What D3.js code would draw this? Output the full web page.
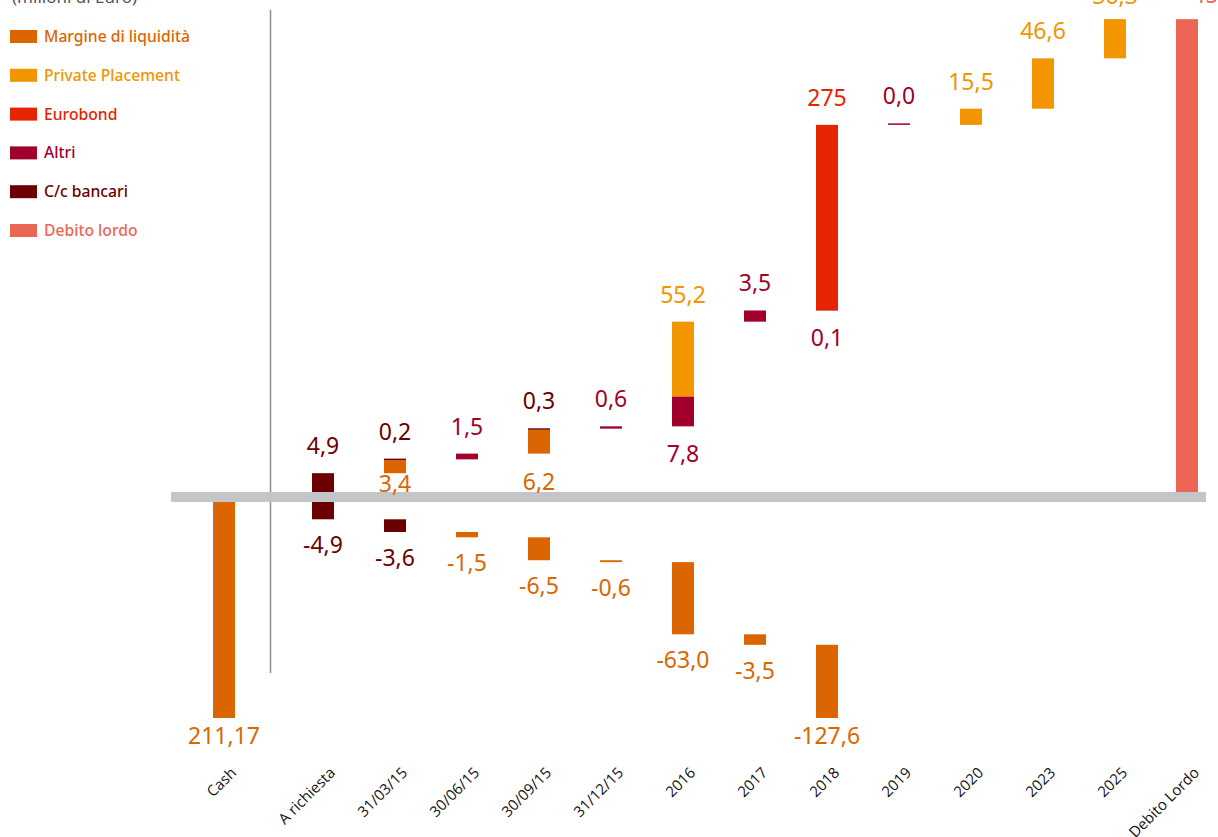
<!DOCTYPE html>
<html>
<head>
<meta charset="utf-8">
<script src="https://cdn.jsdelivr.net/npm/d3@7"></script>
<style>
  body { margin: 0; background: #fff; }
  svg { display: block; }
</style>
</head>
<body>
<div id="chart"></div>
<script>
// categories along the x axis
var categories = ["Cash", "A richiesta", "31/03/15", "30/06/15", "30/09/15", "31/12/15",
  "2016", "2017", "2018", "2019", "2020", "2023", "2025", "Debito Lordo"];

// positive movements (stacked bottom -> top in the order of the series list below)
var margineUp        = [null, null, 3.4, null, 6.2, null, null, null, null, null, null, null, null, null];
var altriUp          = [null, null, null, 1.5, null, 0.6, 7.8, 3.5, 0.1, 0.0, null, null, null, null];
var cBancariUp       = [null, 4.9, 0.2, null, 0.3, null, null, null, null, null, null, null, null, null];
var privatePlacement = [null, null, null, null, null, null, 55.2, null, null, null, 15.5, 46.6, 36.3, null];
var eurobond         = [null, null, null, null, null, null, null, null, 275, null, null, null, null, null];

// negative movements
var cBancariDown = [null, -4.9, -3.6, null, null, null, null, null, null, null, null, null, null, null];
var margineDown  = [null, null, null, -1.5, -6.5, -0.6, -63.0, -3.5, -127.6, null, null, null, null, null];

var cashValue = 211.17;

var legendItems = ["Margine di liquidità", "Private Placement", "Eurobond", "Altri", "C/c bancari", "Debito lordo"];
var legendColors = ["#db6601", "#f29500", "#e52401", "#a0002b", "#6b0000", "#ec6753"];

var col = {
  margine: "#db6601", pp: "#f29500", eurobond: "#e52401",
  altri: "#a0002b", cc: "#6b0000", debito: "#ec6753"
};

var it = d3.formatLocale({ decimal: ",", thousands: ".", grouping: [3], currency: ["", "€"], minus: "-" });
var f1 = it.format(".1f"), f0 = it.format(".0f"), f2 = it.format(".2f");

var upSeries = [
  { values: margineUp, color: col.margine, fmt: f1 },
  { values: altriUp, color: col.altri, fmt: f1 },
  { values: cBancariUp, color: col.cc, fmt: f1 },
  { values: privatePlacement, color: col.pp, fmt: f1 },
  { values: eurobond, color: col.eurobond, fmt: f0 }
];
var downSeries = [
  { values: cBancariDown, color: col.cc, fmt: f1 },
  { values: margineDown, color: col.margine, fmt: f1 }
];

var W = 1218, H = 837;
var svg = d3.select("#chart").append("svg").attr("width", W).attr("height", H);

// x: point scale for the waterfall columns, Cash sits further left past the divider
var xp = d3.scalePoint().domain(categories.slice(1)).range([323, 1187]);
var x = d3.scaleOrdinal()
  .domain(categories)
  .range([xp(categories[1]) - 1.375 * xp.step()].concat(categories.slice(1).map(function (c) { return xp(c); })));

// y: broken (piecewise linear) scales, as in the original the bars are not to scale
var yUp = d3.scaleLinear().domain([0, 25, 80, 85, 360, 460]).range([492, 396, 322, 306, 124, 16]);
var yDown = d3.scaleLinear().domain([0, -17, -80, -84, -211.17]).range([502, 562, 634, 646, 718]);

var barW = 22;

// build waterfall segments
var segs = [];
var cumUp = 0, cumDown = 0;
categories.forEach(function (c, i) {
  var ups = [];
  upSeries.forEach(function (s) {
    var v = s.values[i];
    if (v == null) return;
    ups.push({ cat: c, v0: cumUp, v1: cumUp + v, v: v, color: s.color, fmt: s.fmt, dir: "up" });
    cumUp += v;
  });
  ups.forEach(function (d, k) { d.labelBelow = ups.length > 1 && k === 0; });
  segs = segs.concat(ups);
  downSeries.forEach(function (s) {
    var v = s.values[i];
    if (v == null) return;
    segs.push({ cat: c, v0: cumDown, v1: cumDown + v, v: v, color: s.color, fmt: s.fmt, dir: "down" });
    cumDown += v;
  });
});
var debitoLordo = cumUp;
segs.push({ cat: "Cash", v0: 0, v1: -cashValue, v: cashValue, color: col.margine, fmt: f2, dir: "down" });
segs.push({ cat: "Debito Lordo", v0: 0, v1: debitoLordo, v: debitoLordo, color: col.debito, fmt: f1, dir: "up", total: true });

segs.forEach(function (d) {
  var sc = d.dir === "up" ? yUp : yDown;
  var a = sc(d.v0), b = sc(d.v1);
  d.top = Math.min(a, b);
  d.bot = Math.max(a, b);
  if (d.bot - d.top < 1.5) d.top = d.bot - 1.5;
});

// title (cut at the top like the original)
svg.append("text")
  .attr("x", 12).attr("y", 3)
  .attr("font-family", "Noto Sans").attr("font-size", 17).attr("fill", "#555")
  .text("(milioni di Euro)");

// divider
svg.append("line")
  .attr("x1", 270.5).attr("x2", 270.5).attr("y1", 10).attr("y2", 673)
  .attr("stroke", "#8c8c8c").attr("stroke-width", 1.5);

// bars
svg.append("g").selectAll("rect")
  .data(segs)
  .enter()
  .append("rect")
  .attr("x", function (d) { return x(d.cat) - barW / 2; })
  .attr("y", function (d) { return d.top; })
  .attr("width", barW)
  .attr("height", function (d) { return d.bot - d.top; })
  .attr("fill", function (d) { return d.color; });

// baseline band
svg.append("rect")
  .attr("x", 171).attr("width", 1035)
  .attr("y", yUp(0)).attr("height", yDown(0) - yUp(0))
  .attr("fill", "#c4c5c9");

// value labels
svg.append("g").selectAll("text")
  .data(segs)
  .enter()
  .append("text")
  .attr("x", function (d) { return x(d.cat); })
  .attr("y", function (d) {
    if (d.total) return 3;
    if (d.dir === "down") return Math.min(d.bot + 34, 744);
    if (d.labelBelow) return Math.min(d.bot + 36, yUp(0));
    return Math.max(d.top - 19, 4);
  })
  .attr("text-anchor", function (d) { return d.total ? "start" : "middle"; })
  .attr("dx", function (d) { return d.total ? 5 : 0; })
  .attr("font-family", "Noto Sans")
  .attr("font-size", 23)
  .attr("fill", function (d) { return d.color; })
  .text(function (d) { return d.fmt(d.v); });

// x axis labels
var axis = svg.append("g")
  .attr("transform", "translate(9, 770)")
  .call(d3.axisBottom(x).tickSize(0));
axis.select(".domain").remove();
axis.selectAll("text")
  .attr("x", 0).attr("y", 0).attr("dy", "0.35em")
  .attr("transform", "rotate(-45)")
  .attr("text-anchor", "end")
  .attr("font-family", "Open Sans")
  .attr("font-size", 15)
  .attr("fill", "#111");

// legend
var leg = svg.append("g").selectAll("g")
  .data(legendItems)
  .enter()
  .append("g")
  .attr("transform", function (d, i) { return "translate(10," + (30 + i * 38.8) + ")"; });
leg.append("rect")
  .attr("width", 27).attr("height", 13)
  .attr("fill", function (d, i) { return legendColors[i]; });
leg.append("text")
  .attr("x", 34).attr("y", 6.5).attr("dy", "0.35em")
  .attr("font-family", "Noto Sans").attr("font-size", 15.7).attr("font-weight", 500)
  .attr("fill", function (d, i) { return legendColors[i]; })
  .text(function (d) { return d; });
</script>
</body>
</html>
